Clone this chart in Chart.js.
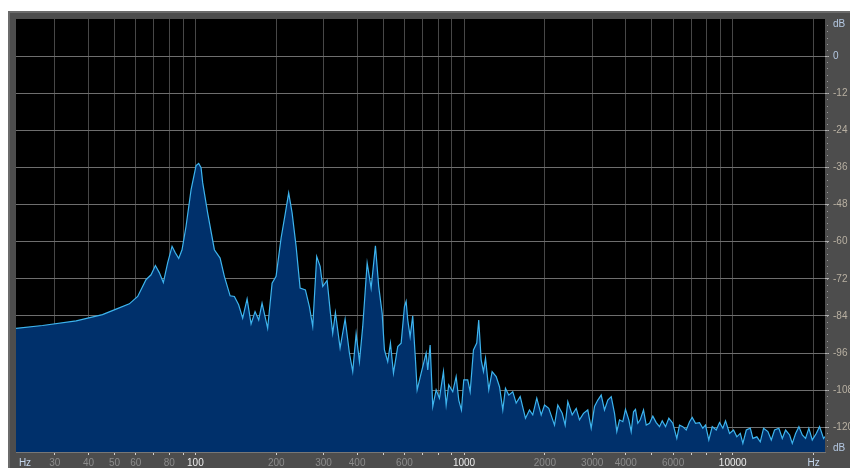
<!DOCTYPE html>
<html>
<head>
<meta charset="utf-8">
<title>Frequency Analysis</title>
<script src="https://cdn.jsdelivr.net/npm/chart.js@4.4.1/dist/chart.umd.min.js"></script>
<style>
  html, body { margin: 0; padding: 0; background: #fff; overflow: hidden; }
  #spectrum { position: absolute; left: 8px; top: 11px; }
</style>
</head>
<body>
<canvas id="spectrum" width="842" height="457"></canvas>
<script>
"use strict";

// spectrum: frequency in Hz, level in dB
var freqHz = [
  21.5, 27, 36, 45.1, 50.7, 56.8, 61, 65.5, 68.4, 71,
  73.4, 76, 78.9, 81.9, 84.2, 86.7, 89.2, 92.3, 96.4, 100.6,
  102.9, 105, 106.5, 111.1, 117.7, 123.6, 128.2, 134.7, 139.7, 144.9,
  150, 155.8, 161.2, 166.8, 172.1, 177.1, 185.8, 193, 199.7, 208.5,
  216.3, 222.5, 229.1, 237.1, 245.4, 256.8, 265.7, 273.4, 282.9, 291.3,
  297.8, 309.3, 318.2, 324.5, 332.1, 345.7, 360.9, 374.4, 385.2, 396.6,
  408, 419.7, 435.9, 451, 467.9, 481.3, 495.6, 505.5, 519.9, 532.2,
  546.1, 566.5, 583.3, 600, 608.8, 617.2, 630, 644.2, 659.4, 669,
  692.4, 722.7, 732.7, 747.9, 764.8, 787.3, 809.9, 838.2, 857.9, 877.1,
  907.7, 934.6, 955.7, 977.9, 997.5, 1032, 1054, 1084, 1115, 1134,
  1158, 1181, 1202, 1236, 1272, 1317, 1355, 1394, 1426, 1467,
  1518, 1563, 1618, 1693, 1752, 1802, 1865, 1937, 1993, 2067,
  2171, 2233, 2319, 2379, 2433, 2526, 2615, 2689, 2783, 2887,
  2973, 3059, 3147, 3239, 3332, 3428, 3530, 3631, 3703, 3790,
  3899, 3989, 4104, 4189, 4273, 4346, 4433, 4525, 4655, 4765,
  4902, 5042, 5191, 5340, 5465, 5622, 5783, 5984, 6193, 6337,
  6519, 6713, 6906, 7067, 7270, 7523, 7739, 7920, 8147, 8389,
  8681, 8931, 9188, 9402, 9730, 10069, 10358, 10668, 10908, 11232,
  11623, 11884, 12298, 12663, 13026, 13515, 13914, 14314, 14851, 15292,
  15731, 16280, 16660, 17138, 17630, 18149, 18664, 19199, 19770, 20460,
  21048, 21781, 22050
];

var levelDb = [
  -88, -87.1, -85.6, -83.6, -81.8, -80.1, -77.7, -72.3, -70.7, -67.7,
  -70, -73.2, -66.8, -61.5, -63.6, -65.4, -62.6, -55.1, -43.2, -35.4,
  -34.7, -36.1, -41, -50.7, -62.6, -65.3, -71.2, -77.5, -77.7, -80.4,
  -84.7, -78.5, -86.6, -82.6, -85.3, -79.9, -88, -73.4, -71.2, -58.8,
  -50.7, -44.2, -50.7, -61.5, -75, -75.6, -81, -87.4, -64.8, -68,
  -74.5, -72.5, -83.1, -89.6, -82.9, -94.4, -85, -96, -102, -89.8,
  -98.8, -87.4, -66.9, -75, -61.3, -74.5, -83.1, -95, -98.8, -92.8,
  -102.5, -93.9, -92.8, -81, -79.3, -85.3, -90.7, -84, -98.2, -107.9,
  -102.5, -96, -101.5, -93.4, -113.3, -107.9, -110.6, -102, -112.8, -106.3,
  -108.5, -103.6, -111.2, -114.4, -104.7, -104.7, -108.5, -95, -92.8, -85.3,
  -98.2, -102, -97.7, -107.9, -102, -103.6, -106.9, -114.4, -107.4, -109.6,
  -108.5, -112.2, -110.1, -117.1, -114.4, -116, -110.6, -116, -112.8, -113.9,
  -119.3, -112.8, -115.5, -119.3, -111.7, -116, -113.9, -117.6, -115.5, -114.4,
  -120.3, -113.3, -111.2, -109.6, -114.4, -111.2, -110.1, -115.5, -121.4, -117.6,
  -118.2, -114.2, -117.6, -121.4, -115, -114.2, -118.7, -117.6, -114.4, -119.3,
  -118.7, -116.4, -118.5, -119.8, -117.9, -119.8, -117.1, -118.7, -123.6, -119.3,
  -119.8, -120.9, -118.2, -116.8, -118.7, -118.5, -120.3, -119.3, -124.1, -119.8,
  -120.9, -118.5, -120.3, -117.9, -122, -120.9, -123.1, -122, -125.2, -120.9,
  -120.3, -123.6, -123.1, -124.7, -120.3, -121.4, -124.1, -120.9, -120.3, -123.6,
  -120.9, -122.5, -125.2, -122, -119.8, -122.5, -123.6, -120.3, -124.1, -122,
  -119.8, -123.6, -123
];

// frequency grid and its labels (blank = grid line only)
var freqTicks = [
  30, 40, 50, 60, 70, 80, 90, 100,
  200, 300, 400, 500, 600, 700, 800, 900, 1000,
  2000, 3000, 4000, 5000, 6000, 7000, 8000, 9000, 10000, 20000
];
var freqTickLabels = [
  "30", "40", "50", "60", "", "80", "", "100",
  "200", "300", "400", "", "600", "", "", "", "1000",
  "2000", "3000", "4000", "", "6000", "", "", "", "10000", "Hz"
];

// level scale on the right, the "dB" entries are just unit captions
var dbTicks = [10.2, 0, -12, -24, -36, -48, -60, -72, -84, -96, -108, -120, -126.8];
var dbTickLabels = ["dB", "0", "-12", "-24", "-36", "-48", "-60", "-72", "-84", "-96", "-108", "-120", "dB"];
var dbMinorStep = 2;

var FONT = "'Liberation Sans', Arial, sans-serif";

var points = freqHz.map(function(f, i) {
  return { x: f, y: levelDb[i] };
});

//Paints the gray panel and the black plot area, then the minor dB ticks and the corner "Hz" caption
var panelPlugin = {
  id: "panel",
  beforeDraw: function(chart) {
    var ctx = chart.ctx;
    var a = chart.chartArea;
    ctx.save();
    ctx.fillStyle = "#4d4d4d";
    ctx.fillRect(0, 0, chart.width, chart.height);
    ctx.fillStyle = "#6b6b6b";
    ctx.fillRect(0, 0, chart.width, 2);
    ctx.fillRect(0, 0, 2, chart.height);
    ctx.fillStyle = "#000";
    ctx.fillRect(a.left, a.top, a.right - a.left, a.bottom - a.top);
    ctx.restore();
  },
  afterDraw: function(chart) {
    var ctx = chart.ctx;
    var a = chart.chartArea;
    var yScale = chart.scales.y;
    ctx.save();
    ctx.fillStyle = "#9a9a9a";
    for (var v = yScale.min + dbMinorStep; v < yScale.max; v += dbMinorStep) {
      var py = Math.round(yScale.getPixelForValue(v));
      ctx.fillRect(a.right + 2, py, 1, 1);
    }
    ctx.font = "10px " + FONT;
    ctx.fillStyle = "#c4d6ec";
    ctx.textAlign = "center";
    ctx.textBaseline = "middle";
    ctx.fillText("Hz", 17, a.bottom + 11);
    ctx.restore();
  }
};

function isUnit(v) {
  return v === dbTicks[0] || v === dbTicks[dbTicks.length - 1];
}

var spectrumChart = new Chart(document.getElementById("spectrum"), {
  type: "line",
  data: {
    datasets: [{
      data: points,
      borderColor: "#3db4ee",
      borderWidth: 1.2,
      backgroundColor: "#00306b",
      fill: "start",
      pointRadius: 0,
      tension: 0
    }]
  },
  plugins: [panelPlugin],
  options: {
    responsive: false,
    animation: false,
    devicePixelRatio: 1,
    layout: { padding: { left: 8, top: 8, right: 0, bottom: 0 } },
    plugins: {
      legend: { display: false },
      tooltip: { enabled: false }
    },
    scales: {
      x: {
        type: "logarithmic",
        min: 21.5,
        max: 22050,
        afterBuildTicks: function(scale) {
          scale.ticks = freqTicks.map(function(v) { return { value: v }; });
        },
        afterFit: function(scale) {
          scale.height = 16;
          scale.paddingLeft = 0;
          scale.paddingRight = 0;
        },
        border: { display: true, color: "#777" },
        grid: {
          color: "#474747",
          tickColor: "#d0d0d0",
          tickLength: 3
        },
        ticks: {
          autoSkip: false,
          maxRotation: 0,
          padding: 2,
          font: { family: FONT, size: 10 },
          color: function(ctx) {
            var v = ctx.tick && ctx.tick.value;
            if (v === 100 || v === 1000 || v === 10000) return "#ececec";
            if (v === 20000) return "#c4d6ec";
            return "#8c8c8c";
          },
          callback: function(value, index) {
            return freqTickLabels[index];
          }
        }
      },
      y: {
        type: "linear",
        position: "right",
        min: -128,
        max: 12,
        afterBuildTicks: function(scale) {
          scale.ticks = dbTicks.map(function(v) { return { value: v }; });
        },
        afterFit: function(scale) {
          scale.width = 25;
          scale.paddingTop = 0;
          scale.paddingBottom = 0;
        },
        border: { display: false },
        grid: {
          color: function(ctx) {
            return ctx.tick && isUnit(ctx.tick.value) ? "rgba(0,0,0,0)" : "#6e6e6e";
          },
          tickColor: function(ctx) {
            return ctx.tick && isUnit(ctx.tick.value) ? "rgba(0,0,0,0)" : "#b0b0b0";
          },
          tickLength: 4
        },
        ticks: {
          padding: 4,
          font: { family: FONT, size: 10 },
          color: function(ctx) {
            var v = ctx.tick && ctx.tick.value;
            if (v === 0 || isUnit(v)) return "#b4c8e2";
            return "#b8b0a2";
          },
          callback: function(value, index) {
            return dbTickLabels[index];
          }
        }
      }
    }
  }
});
</script>
</body>
</html>
